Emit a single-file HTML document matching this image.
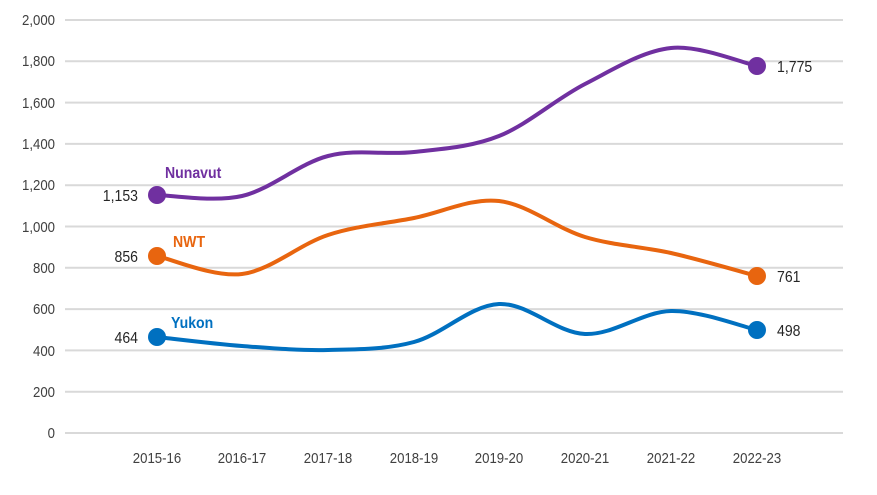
<!DOCTYPE html>
<html><head><meta charset="utf-8"><style>
html,body{margin:0;padding:0;background:#fff;}
svg text{font-family:"Liberation Sans Narrow","Liberation Sans",sans-serif;}
</style></head><body>
<svg id="s" width="877" height="490" xmlns="http://www.w3.org/2000/svg">
<g stroke="#d9d9d9" stroke-width="2">
<line x1="65" x2="843" y1="20" y2="20"/><line x1="65" x2="843" y1="61.3" y2="61.3"/>
<line x1="65" x2="843" y1="102.6" y2="102.6"/><line x1="65" x2="843" y1="143.9" y2="143.9"/>
<line x1="65" x2="843" y1="185.2" y2="185.2"/><line x1="65" x2="843" y1="226.5" y2="226.5"/>
<line x1="65" x2="843" y1="267.8" y2="267.8"/><line x1="65" x2="843" y1="309.1" y2="309.1"/>
<line x1="65" x2="843" y1="350.4" y2="350.4"/><line x1="65" x2="843" y1="391.7" y2="391.7"/>
<line x1="65" x2="843" y1="433" y2="433"/>
</g>
<g font-size="15" fill="#404040" text-anchor="end" transform="translate(55,0) scale(0.88,1) translate(-55,0)">
<text x="55" y="25">2,000</text><text x="55" y="66">1,800</text><text x="55" y="108">1,600</text>
<text x="55" y="149">1,400</text><text x="55" y="190">1,200</text><text x="55" y="232">1,000</text>
<text x="55" y="273">800</text><text x="55" y="314">600</text><text x="55" y="356">400</text>
<text x="55" y="397">200</text><text x="55" y="438">0</text>
</g>
<g font-size="15" fill="#404040" text-anchor="middle">
<text transform="translate(157,463) scale(0.88,1)">2015-16</text>
<text transform="translate(242,463) scale(0.88,1)">2016-17</text>
<text transform="translate(328,463) scale(0.88,1)">2017-18</text>
<text transform="translate(414,463) scale(0.88,1)">2018-19</text>
<text transform="translate(499,463) scale(0.88,1)">2019-20</text>
<text transform="translate(585,463) scale(0.88,1)">2020-21</text>
<text transform="translate(671,463) scale(0.88,1)">2021-22</text>
<text transform="translate(757,463) scale(0.88,1)">2022-23</text>
</g>
<g id="lines"></g>
<circle cx="157" cy="195" r="9" fill="#7030a0"/><circle cx="757" cy="66" r="9" fill="#7030a0"/>
<circle cx="157" cy="256" r="9" fill="#e8650f"/><circle cx="757" cy="276" r="9" fill="#e8650f"/>
<circle cx="157" cy="337" r="9" fill="#0070c0"/><circle cx="757" cy="330" r="9" fill="#0070c0"/>
<g font-size="16" fill="#262626">
<text text-anchor="end" transform="translate(138,201) scale(0.88,1)">1,153</text>
<text text-anchor="end" transform="translate(138,262) scale(0.88,1)">856</text>
<text text-anchor="end" transform="translate(138,343) scale(0.88,1)">464</text>
<text transform="translate(777,72) scale(0.88,1)">1,775</text>
<text transform="translate(777,282) scale(0.88,1)">761</text>
<text transform="translate(777,336) scale(0.88,1)">498</text>
</g>
<g font-size="16" font-weight="bold">
<text transform="translate(165,178) scale(0.88,1)" fill="#7030a0">Nunavut</text>
<text transform="translate(173,247) scale(0.88,1)" fill="#e8650f">NWT</text>
<text transform="translate(171,328) scale(0.88,1)" fill="#0070c0">Yukon</text>
</g>
</svg>
<script>
var xs=[157,242,328,414,499,585,671,757];
var series=[["#7030a0",[195,196,156,152,136,84,48,66]],["#e8650f",[256,274,235,218,201,237,253,276]],["#0070c0",[337,346,350,342,304,334,311,330]]];
var g=document.getElementById("lines");
series.forEach(function(s){
 var ys=s[1],p=[];for(var i=0;i<8;i++)p.push([xs[i],ys[i]]);
 var d="M"+p[0][0]+","+p[0][1];
 for(var i=0;i<7;i++){var p0=p[Math.max(i-1,0)],p1=p[i],p2=p[i+1],p3=p[Math.min(i+2,7)];
  var c1=[p1[0]+(p2[0]-p0[0])/6,p1[1]+(p2[1]-p0[1])/6],c2=[p2[0]-(p3[0]-p1[0])/6,p2[1]-(p3[1]-p1[1])/6];
  d+=" C"+c1+" "+c2+" "+p2;}
 var e=document.createElementNS("http://www.w3.org/2000/svg","path");
 e.setAttribute("d",d);e.setAttribute("fill","none");e.setAttribute("stroke",s[0]);e.setAttribute("stroke-width","4");
 g.appendChild(e);});
</script>
</body></html>
